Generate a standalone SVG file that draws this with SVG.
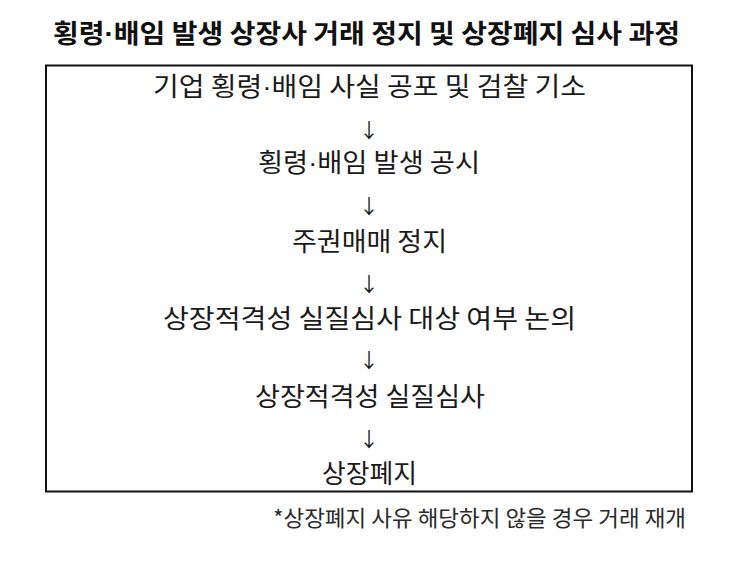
<svg xmlns="http://www.w3.org/2000/svg" width="743" height="575" viewBox="0 0 743 575">
<style>
.t{font-family:"Noto Sans CJK KR","Noto Sans",sans-serif;fill:#1a1a1a;text-anchor:middle;font-size:26px}
.title{font-family:"Noto Sans CJK KR","Noto Sans",sans-serif;fill:#111;text-anchor:middle;font-size:26px;font-weight:bold}
.note{font-family:"Noto Sans CJK KR","Noto Sans",sans-serif;fill:#2a2a2a;text-anchor:end;font-size:22px}
.arr{font-family:"Noto Sans CJK KR","DejaVu Sans",sans-serif;fill:#1a1a1a;text-anchor:middle;font-size:20px;dominant-baseline:central}
.dot{font-family:"Liberation Sans",sans-serif}
</style>
<rect width="743" height="575" fill="#fff"/>
<g id="title"><text class="title" x="366.5" y="43" textLength="627" lengthAdjust="spacingAndGlyphs">횡령<tspan class="dot">·</tspan>배임 발생 상장사 거래 정지 및 상장폐지 심사 과정</text></g>
<g id="frame"><rect x="46" y="65.5" width="646" height="426" fill="none" stroke="#111" stroke-width="2"/></g>
<g id="n1"><text class="t" x="369.5" y="96" textLength="433" lengthAdjust="spacingAndGlyphs">기업 횡령<tspan class="dot">·</tspan>배임 사실 공포 및 검찰 기소</text></g>
<g id="n2"><text class="t" x="369" y="172" textLength="222" lengthAdjust="spacingAndGlyphs">횡령<tspan class="dot">·</tspan>배임 발생 공시</text></g>
<g id="n3"><text class="t" x="369.5" y="251" textLength="155" lengthAdjust="spacingAndGlyphs">주권매매 정지</text></g>
<g id="n4"><text class="t" x="369.5" y="328" textLength="413" lengthAdjust="spacingAndGlyphs">상장적격성 실질심사 대상 여부 논의</text></g>
<g id="n5"><text class="t" x="370" y="406" textLength="230" lengthAdjust="spacingAndGlyphs">상장적격성 실질심사</text></g>
<g id="n6"><text class="t" x="369.5" y="483" textLength="95" lengthAdjust="spacingAndGlyphs">상장폐지</text></g>
<g id="connectors">
<text class="arr" x="369" y="129.5">↓</text>
<text class="arr" x="369" y="205.5">↓</text>
<text class="arr" x="369" y="283">↓</text>
<text class="arr" x="369" y="359">↓</text>
<text class="arr" x="369" y="438">↓</text>
</g>
<g id="footnote"><text class="note" x="686" y="526" textLength="413" lengthAdjust="spacingAndGlyphs">*상장폐지 사유 해당하지 않을 경우 거래 재개</text></g>
</svg>
